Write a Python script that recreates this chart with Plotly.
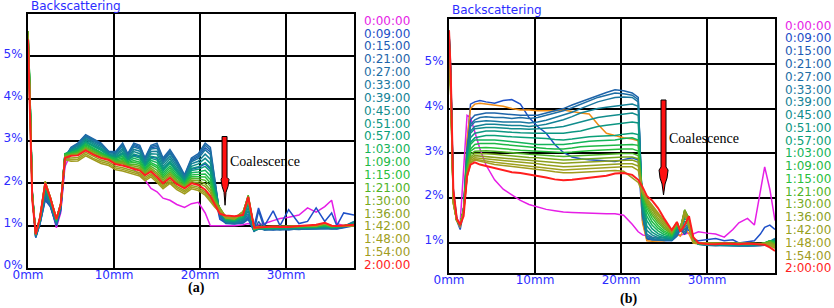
import plotly.graph_objects as go

# ---------------- labels / colours ----------------
times = ["0:00:00", "0:09:00", "0:15:00", "0:21:00", "0:27:00", "0:33:00", "0:39:00",
         "0:45:00", "0:51:00", "0:57:00", "1:03:00", "1:09:00", "1:15:00", "1:21:00",
         "1:30:00", "1:36:00", "1:42:00", "1:48:00", "1:54:00", "2:00:00"]
legend_colors = ["#e61ee6", "#1e50c8", "#1e5ab4", "#1e64aa", "#1e6ea5", "#1a78a0", "#148296",
                 "#108c8c", "#0c9682", "#0aa078", "#14b45a", "#1eb946", "#28c03c", "#50b428",
                 "#78aa1e", "#8c9f1e", "#96a01e", "#a0a01e", "#a09b1e", "#ff1e1e"]
line_colors_b = list(legend_colors)
line_colors_b[2] = "#f08c14"

x_ticks = [0, 10, 20, 30]
x_ticktext = ["0mm", "10mm", "20mm", "30mm"]
y_ticks = [0, 1, 2, 3, 4, 5]
y_ticktext = ["0%", "1%", "2%", "3%", "4%", "5%"]

# ---------------- panel (a) ----------------
xa = [0, 0.2, 0.5, 0.9, 1.4, 2.0, 2.6, 3.3, 3.8, 4.3,
      5.0, 5.8, 6.7, 7.6, 8.5, 9.4, 10.2, 11.0, 11.6, 12.3, 13.0, 13.6, 14.3, 15.0, 15.7, 16.5, 17.3, 18.2, 19.0, 19.8, 20.6, 21.2,
      21.7, 22.3, 23.0, 24.0, 25.0, 25.6, 26.3,
      26.8, 27.5, 28.5, 29.3, 30.3, 31.5, 32.5, 33.5, 34.5, 35.3, 35.9, 36.7, 37.9]

a_0000 = [5.0, 4.2, 1.8, 0.85, 1.1, 1.75, 1.5, 0.95, 1.3, 2.4,
          2.7, 2.8, 2.95, 2.8, 2.7, 2.6, 2.55, 2.5, 2.4, 2.33, 2.2, 2.08, 1.88, 1.8, 1.65, 1.6, 1.5, 1.43, 1.52, 1.55, 1.3, 1.0,
          1.0, 1.0, 1.0, 1.0, 1.02, 1.05, 1.0,
          1.02, 1.05, 1.12, 1.17, 1.2, 1.25, 1.42, 1.32, 1.45, 1.6, 1.05, 1.0, 1.0]
a_0009 = [5.1, 4.1, 1.7, 0.72, 1.05, 1.6, 1.45, 1.0, 1.35, 2.5,
          2.76, 2.82, 2.98, 2.88, 2.79, 2.66, 2.62, 2.71, 2.56, 2.67, 2.63, 2.42, 2.62, 2.59, 2.33, 2.50, 2.29, 2.06, 2.33, 2.37, 2.46, 2.33,
          1.75, 1.15, 1.06, 1.05, 1.08, 1.2, 1.0,
          1.42, 1.0, 1.35, 1.0, 1.38, 1.05, 1.1, 1.42, 1.1, 1.3, 1.0, 1.3, 1.25]
a_0015 = [5.3, 4.2, 1.7, 0.72, 1.05, 1.62, 1.45, 1.02, 1.38, 2.55,
          2.83, 2.92, 3.11, 3.01, 2.92, 2.73, 2.72, 2.90, 2.67, 2.89, 2.84, 2.56, 2.84, 2.87, 2.54, 2.73, 2.49, 2.17, 2.54, 2.63, 2.84, 2.74,
          1.95, 1.2, 1.05, 1.04, 1.06, 1.15, 0.87,
          1.35, 0.92, 0.9, 0.92, 0.9, 0.93, 0.92, 0.94, 0.95, 0.93, 0.92, 0.95, 1.0]
a_0021 = [5.2, 4.1, 1.7, 0.73, 1.06, 1.65, 1.47, 1.03, 1.4, 2.6,
          2.85, 2.95, 3.15, 3.05, 2.95, 2.75, 2.75, 2.95, 2.70, 2.95, 2.90, 2.60, 2.90, 2.95, 2.60, 2.80, 2.55, 2.20, 2.60, 2.70, 2.95, 2.85,
          2.1, 1.25, 1.06, 1.05, 1.07, 1.18, 0.86,
          1.1, 0.9, 0.91, 0.9, 0.92, 0.91, 0.93, 0.92, 0.93, 0.94, 0.93, 0.96, 1.05]
a_0027 = [5.3, 4.2, 1.72, 0.74, 1.08, 1.7, 1.5, 1.05, 1.42, 2.62,
          2.84, 2.94, 3.13, 3.03, 2.93, 2.74, 2.74, 2.92, 2.68, 2.92, 2.87, 2.58, 2.87, 2.91, 2.57, 2.77, 2.52, 2.18, 2.57, 2.66, 2.90, 2.79,
          2.05, 1.25, 1.07, 1.06, 1.08, 1.22, 0.87,
          0.95, 0.9, 0.92, 0.91, 0.92, 0.92, 0.93, 0.93, 0.94, 0.93, 0.94, 0.97, 1.08]
a_0033 = [5.4, 4.2, 1.72, 0.75, 1.1, 1.75, 1.52, 1.06, 1.44, 2.64,
          2.82, 2.91, 3.09, 2.99, 2.90, 2.72, 2.71, 2.87, 2.65, 2.86, 2.81, 2.54, 2.81, 2.83, 2.51, 2.70, 2.46, 2.15, 2.51, 2.59, 2.79, 2.68,
          2.0, 1.27, 1.08, 1.07, 1.1, 1.28, 0.88,
          0.92, 0.91, 0.92, 0.92, 0.93, 0.93, 0.94, 0.94, 0.95, 0.94, 0.95, 0.98, 1.1]
a_0039 = [5.4, 4.3, 1.74, 0.76, 1.12, 1.8, 1.55, 1.08, 1.46, 2.66,
          2.80, 2.88, 3.06, 2.96, 2.87, 2.70, 2.68, 2.82, 2.62, 2.80, 2.76, 2.50, 2.75, 2.76, 2.46, 2.64, 2.41, 2.12, 2.46, 2.52, 2.69, 2.57,
          1.95, 1.3, 1.09, 1.08, 1.12, 1.35, 0.88,
          0.92, 0.92, 0.93, 0.93, 0.93, 0.94, 0.94, 0.95, 0.96, 0.95, 0.95, 0.98, 1.08]
a_0045 = [5.5, 4.3, 1.75, 0.77, 1.13, 1.84, 1.57, 1.09, 1.47, 2.67,
          2.78, 2.85, 3.03, 2.93, 2.83, 2.68, 2.65, 2.78, 2.59, 2.75, 2.70, 2.46, 2.70, 2.69, 2.40, 2.58, 2.36, 2.09, 2.40, 2.46, 2.59, 2.47,
          1.9, 1.32, 1.1, 1.09, 1.15, 1.42, 0.89,
          0.93, 0.93, 0.93, 0.94, 0.94, 0.94, 0.95, 0.95, 0.97, 0.95, 0.96, 0.99, 1.06]
a_0051 = [5.5, 4.3, 1.75, 0.78, 1.14, 1.87, 1.59, 1.1, 1.48, 2.68,
          2.77, 2.83, 2.99, 2.89, 2.80, 2.67, 2.62, 2.73, 2.57, 2.69, 2.65, 2.43, 2.64, 2.61, 2.35, 2.52, 2.31, 2.07, 2.35, 2.39, 2.49, 2.37,
          1.85, 1.34, 1.12, 1.1, 1.18, 1.5, 0.9,
          0.93, 0.94, 0.94, 0.94, 0.95, 0.95, 0.95, 0.96, 0.98, 0.96, 0.96, 0.99, 1.05]
a_0057 = [5.5, 4.3, 1.76, 0.78, 1.15, 1.9, 1.6, 1.11, 1.49, 2.69,
          2.75, 2.81, 2.97, 2.87, 2.78, 2.65, 2.60, 2.68, 2.54, 2.64, 2.60, 2.40, 2.59, 2.55, 2.30, 2.47, 2.27, 2.04, 2.30, 2.33, 2.40, 2.28,
          1.8, 1.36, 1.13, 1.11, 1.2, 1.56, 0.91,
          0.94, 0.94, 0.95, 0.95, 0.95, 0.96, 0.96, 0.97, 0.99, 0.96, 0.97, 0.99, 1.04]
a_0103 = [5.6, 4.4, 1.76, 0.79, 1.16, 1.92, 1.62, 1.12, 1.5, 2.7,
          2.73, 2.78, 2.94, 2.84, 2.75, 2.63, 2.58, 2.64, 2.51, 2.59, 2.55, 2.36, 2.54, 2.49, 2.25, 2.41, 2.22, 2.01, 2.25, 2.27, 2.31, 2.18,
          1.75, 1.38, 1.15, 1.13, 1.22, 1.62, 0.92,
          0.94, 0.95, 0.95, 0.95, 0.96, 0.96, 0.97, 0.97, 1.0, 0.97, 0.97, 1.0, 1.03]
a_0109 = [5.6, 4.4, 1.77, 0.8, 1.17, 1.95, 1.63, 1.13, 1.5, 2.7,
          2.72, 2.76, 2.91, 2.81, 2.72, 2.62, 2.55, 2.60, 2.49, 2.54, 2.50, 2.33, 2.49, 2.42, 2.20, 2.36, 2.17, 1.99, 2.20, 2.21, 2.22, 2.09,
          1.7, 1.4, 1.16, 1.14, 1.25, 1.66, 0.93,
          0.95, 0.95, 0.96, 0.96, 0.96, 0.97, 0.97, 0.98, 1.01, 0.97, 0.98, 1.0, 1.03]
a_0115 = [5.6, 4.4, 1.78, 0.8, 1.18, 1.97, 1.64, 1.14, 1.51, 2.68,
          2.70, 2.74, 2.88, 2.78, 2.69, 2.60, 2.53, 2.56, 2.47, 2.50, 2.46, 2.30, 2.45, 2.37, 2.16, 2.31, 2.13, 1.97, 2.16, 2.16, 2.15, 2.01,
          1.66, 1.41, 1.18, 1.15, 1.27, 1.7, 0.92,
          0.95, 0.96, 0.96, 0.96, 0.97, 0.97, 0.98, 0.98, 1.02, 0.98, 0.98, 1.0, 1.02]
a_0121 = [5.6, 4.3, 1.78, 0.8, 1.18, 1.98, 1.65, 1.15, 1.51, 2.66,
          2.69, 2.72, 2.85, 2.75, 2.67, 2.59, 2.51, 2.53, 2.44, 2.45, 2.42, 2.27, 2.40, 2.31, 2.12, 2.26, 2.09, 1.94, 2.12, 2.11, 2.07, 1.93,
          1.62, 1.42, 1.19, 1.16, 1.3, 1.72, 0.92,
          0.96, 0.96, 0.97, 0.97, 0.97, 0.98, 0.98, 0.99, 1.03, 0.98, 0.99, 1.0, 1.02]
a_0130 = [5.6, 4.3, 1.7, 0.8, 1.19, 2.0, 1.66, 1.16, 1.52, 2.64,
          2.68, 2.70, 2.83, 2.73, 2.65, 2.58, 2.49, 2.49, 2.42, 2.41, 2.38, 2.24, 2.36, 2.25, 2.08, 2.22, 2.05, 1.92, 2.08, 2.06, 1.99, 1.85,
          1.58, 1.42, 1.2, 1.17, 1.32, 1.7, 0.93,
          0.96, 0.97, 0.97, 0.97, 0.98, 0.98, 0.99, 0.99, 1.04, 0.99, 0.99, 1.0, 1.01]
a_0136 = [5.5, 4.2, 1.7, 0.8, 1.19, 2.02, 1.66, 1.16, 1.52, 2.62,
          2.66, 2.68, 2.81, 2.71, 2.62, 2.56, 2.47, 2.46, 2.40, 2.37, 2.34, 2.22, 2.32, 2.21, 2.04, 2.18, 2.02, 1.90, 2.04, 2.01, 1.93, 1.78,
          1.55, 1.4, 1.21, 1.18, 1.33, 1.68, 0.93,
          0.97, 0.97, 0.97, 0.98, 0.98, 0.98, 0.99, 1.0, 1.04, 0.99, 0.99, 1.0, 1.01]
a_0142 = [5.5, 4.2, 1.65, 0.8, 1.2, 2.03, 1.67, 1.17, 1.5, 2.6,
          2.60, 2.61, 2.73, 2.63, 2.55, 2.50, 2.40, 2.37, 2.33, 2.28, 2.25, 2.14, 2.23, 2.10, 1.95, 2.08, 1.93, 1.83, 1.95, 1.91, 1.80, 1.65,
          1.5, 1.38, 1.2, 1.18, 1.33, 1.65, 0.94,
          0.97, 0.97, 0.98, 0.98, 0.98, 0.99, 0.99, 1.0, 1.05, 0.99, 0.99, 1.0, 1.0]
a_0148 = [5.4, 4.1, 1.65, 0.8, 1.2, 2.04, 1.67, 1.17, 1.5, 2.58,
          2.56, 2.57, 2.69, 2.59, 2.51, 2.46, 2.36, 2.33, 2.29, 2.24, 2.21, 2.10, 2.19, 2.06, 1.91, 2.04, 1.89, 1.79, 1.91, 1.87, 1.76, 1.61,
          1.47, 1.35, 1.19, 1.17, 1.32, 1.62, 0.94,
          0.97, 0.98, 0.98, 0.98, 0.99, 0.99, 1.0, 1.0, 1.05, 1.0, 1.0, 1.0, 1.0]
a_0154 = [5.4, 4.1, 1.62, 0.8, 1.2, 2.05, 1.67, 1.17, 1.5, 2.56,
          2.52, 2.53, 2.65, 2.55, 2.47, 2.42, 2.32, 2.29, 2.25, 2.20, 2.17, 2.06, 2.15, 2.02, 1.87, 2.00, 1.85, 1.75, 1.87, 1.83, 1.72, 1.57,
          1.44, 1.32, 1.18, 1.16, 1.3, 1.6, 0.95,
          0.98, 0.98, 0.98, 0.99, 0.99, 0.99, 1.0, 1.0, 1.05, 1.0, 1.0, 1.0, 1.0]
a_0200 = [5.4, 4.0, 1.6, 0.8, 1.2, 2.0, 1.65, 1.15, 1.5, 2.6,
          2.65, 2.66, 2.78, 2.68, 2.60, 2.55, 2.45, 2.42, 2.38, 2.33, 2.30, 2.19, 2.28, 2.15, 2.00, 2.13, 1.98, 1.88, 2.00, 1.96, 1.85, 1.70,
          1.5, 1.28, 1.24, 1.22, 1.25, 1.68, 0.95,
          0.96, 0.97, 0.98, 0.97, 0.97, 0.99, 1.0, 1.02, 1.07, 1.0, 0.99, 1.0, 1.02]

# ---------------- panel (b) ----------------
xb = [0, 0.2, 0.5, 0.9, 1.3, 1.7, 2.1, 2.5,
      3.0, 3.6, 4.3, 5.3, 6.3, 7.3, 8.3, 9.3, 10.3, 11.3, 12.3, 13.3, 14.3, 15.3, 16.3, 17.3, 18.3, 19.3, 20.3, 21.3, 22.0,
      22.5, 23.0, 23.6, 24.3, 25.0, 25.9, 26.5, 26.9, 27.4, 27.9, 28.4,
      29.0, 30.0, 31.0, 32.0, 33.0, 33.7, 34.7, 35.5, 36.2, 36.7, 37.3, 37.9]

b_0000 = [5.6, 4.7, 2.0, 1.5, 1.45, 2.6, 3.85, 3.8,
          3.5, 3.1, 2.74, 2.41, 2.2, 2.07, 1.95, 1.86, 1.8, 1.75, 1.72, 1.69, 1.68, 1.67, 1.66, 1.66, 1.65, 1.65, 1.62, 1.42, 1.25,
          1.18, 1.15, 1.13, 1.12, 1.12, 1.15, 1.2, 1.18, 1.2, 1.22, 1.2,
          1.25, 1.22, 1.2, 1.13, 1.3, 1.45, 1.55, 1.4, 2.2, 2.7, 2.2, 1.5]
b_0009 = [5.7, 4.8, 2.1, 1.5, 1.3, 1.7, 3.2, 4.1,
          4.15, 4.18, 4.15, 4.12, 4.18, 4.2, 4.1, 3.8, 3.6, 3.45, 3.2, 3.02, 2.92, 2.88, 2.86, 2.85, 2.83, 2.82, 2.86, 2.9, 2.85,
          1.5, 1.08, 1.07, 1.06, 1.05, 1.06, 1.25, 1.3, 1.2, 1.3, 1.08,
          1.05, 1.08, 1.1, 1.05, 1.07, 1.0, 1.02, 1.05, 1.2, 1.35, 1.4, 1.3]
b_0015 = [5.7, 4.8, 2.1, 1.5, 1.35, 1.8, 3.3, 4.0,
          4.1, 4.12, 4.1, 4.08, 4.05, 4.0, 3.97, 3.97, 3.95, 3.95, 3.95, 3.97, 3.93, 3.9, 3.88, 3.65, 3.45, 3.4, 3.35, 3.32, 3.28,
          1.45, 1.05, 1.04, 1.05, 1.05, 1.1, 1.2, 1.15, 1.35, 1.2, 1.0,
          0.98, 0.97, 0.97, 0.96, 0.97, 0.97, 0.96, 0.97, 0.97, 0.98, 1.0, 1.02]
b_0021 = [5.75, 4.9, 2.2, 1.55, 1.38, 1.75, 3.1, 3.75,
          3.85, 3.88, 3.9, 3.9, 3.88, 3.87, 3.85, 3.85, 3.85, 3.9, 3.95, 4.0, 4.08, 4.15, 4.22, 4.3, 4.36, 4.42, 4.4, 4.35, 4.25,
          1.6, 1.1, 1.07, 1.06, 1.05, 1.05, 1.15, 1.3, 1.2, 1.38, 1.12,
          0.98, 0.95, 0.94, 0.95, 0.94, 0.93, 0.94, 0.93, 0.94, 0.95, 1.0, 1.05]
b_0027 = [5.7, 4.8, 2.15, 1.55, 1.38, 1.75, 3.05, 3.65,
          3.75, 3.8, 3.82, 3.8, 3.8, 3.78, 3.8, 3.78, 3.8, 3.85, 3.9, 3.95, 4.02, 4.1, 4.17, 4.25, 4.3, 4.35, 4.33, 4.3, 4.2,
          1.65, 1.12, 1.08, 1.07, 1.06, 1.06, 1.18, 1.32, 1.25, 1.4, 1.1,
          0.97, 0.95, 0.95, 0.94, 0.94, 0.94, 0.93, 0.94, 0.94, 0.96, 1.02, 1.08]
b_0033 = [5.7, 4.8, 2.1, 1.5, 1.38, 1.75, 3.0, 3.6,
          3.7, 3.72, 3.73, 3.72, 3.7, 3.7, 3.7, 3.68, 3.7, 3.74, 3.8, 3.85, 3.92, 4.0, 4.07, 4.15, 4.2, 4.25, 4.26, 4.25, 4.15,
          1.7, 1.15, 1.1, 1.08, 1.07, 1.07, 1.22, 1.34, 1.3, 1.42, 1.08,
          0.97, 0.96, 0.95, 0.95, 0.94, 0.94, 0.94, 0.94, 0.95, 0.97, 1.03, 1.1]
b_0039 = [5.65, 4.7, 2.1, 1.5, 1.38, 1.75, 2.95, 3.5,
          3.6, 3.63, 3.65, 3.65, 3.63, 3.62, 3.62, 3.6, 3.62, 3.65, 3.7, 3.75, 3.82, 3.9, 3.95, 4.0, 4.03, 4.05, 4.08, 4.1, 4.05,
          1.75, 1.2, 1.13, 1.1, 1.08, 1.08, 1.26, 1.35, 1.36, 1.44, 1.07,
          0.97, 0.96, 0.95, 0.96, 0.95, 0.95, 0.95, 0.95, 0.96, 0.98, 1.03, 1.08]
b_0045 = [5.65, 4.7, 2.05, 1.5, 1.38, 1.75, 2.9, 3.45,
          3.55, 3.57, 3.58, 3.58, 3.56, 3.55, 3.55, 3.54, 3.55, 3.56, 3.58, 3.6, 3.65, 3.7, 3.75, 3.8, 3.83, 3.85, 3.88, 3.9, 3.85,
          1.8, 1.28, 1.18, 1.12, 1.1, 1.09, 1.3, 1.36, 1.42, 1.46, 1.06,
          0.98, 0.96, 0.96, 0.96, 0.95, 0.95, 0.96, 0.95, 0.96, 0.98, 1.04, 1.06]
b_0051 = [5.6, 4.7, 2.05, 1.5, 1.38, 1.75, 2.85, 3.35,
          3.45, 3.48, 3.5, 3.5, 3.48, 3.47, 3.46, 3.45, 3.45, 3.45, 3.45, 3.45, 3.48, 3.5, 3.55, 3.6, 3.63, 3.65, 3.68, 3.7, 3.68,
          1.85, 1.38, 1.24, 1.16, 1.12, 1.1, 1.33, 1.36, 1.48, 1.48, 1.05,
          0.98, 0.97, 0.96, 0.96, 0.96, 0.96, 0.96, 0.96, 0.97, 0.99, 1.04, 1.05]
b_0057 = [5.6, 4.6, 2.0, 1.5, 1.4, 1.75, 2.8, 3.25,
          3.35, 3.38, 3.4, 3.4, 3.38, 3.37, 3.36, 3.35, 3.35, 3.33, 3.31, 3.3, 3.32, 3.35, 3.37, 3.38, 3.39, 3.4, 3.43, 3.45, 3.42,
          1.9, 1.5, 1.32, 1.21, 1.15, 1.12, 1.35, 1.36, 1.54, 1.5, 1.05,
          0.98, 0.97, 0.97, 0.97, 0.96, 0.96, 0.97, 0.96, 0.97, 0.99, 1.05, 1.04]
b_0103 = [5.6, 4.6, 2.0, 1.5, 1.4, 1.75, 2.75, 3.2,
          3.3, 3.3, 3.3, 3.3, 3.28, 3.26, 3.24, 3.22, 3.2, 3.2, 3.2, 3.2, 3.22, 3.25, 3.27, 3.28, 3.29, 3.3, 3.33, 3.35, 3.3,
          1.95, 1.6, 1.4, 1.27, 1.19, 1.14, 1.37, 1.35, 1.6, 1.52, 1.04,
          0.99, 0.97, 0.97, 0.97, 0.97, 0.96, 0.97, 0.97, 0.97, 1.0, 1.05, 1.03]
b_0109 = [5.55, 4.6, 2.0, 1.5, 1.4, 1.75, 2.7, 3.1,
          3.2, 3.22, 3.22, 3.22, 3.2, 3.18, 3.16, 3.14, 3.12, 3.11, 3.1, 3.1, 3.12, 3.15, 3.16, 3.17, 3.17, 3.18, 3.2, 3.2, 3.18,
          2.0, 1.7, 1.48, 1.33, 1.23, 1.16, 1.38, 1.35, 1.65, 1.55, 1.04,
          0.99, 0.98, 0.97, 0.98, 0.97, 0.97, 0.97, 0.97, 0.98, 1.0, 1.05, 1.02]
b_0115 = [5.55, 4.5, 1.95, 1.5, 1.4, 1.75, 2.65, 3.05,
          3.12, 3.13, 3.13, 3.12, 3.1, 3.09, 3.07, 3.06, 3.05, 3.04, 3.03, 3.02, 3.03, 3.05, 3.06, 3.07, 3.08, 3.1, 3.1, 3.1, 3.05,
          2.05, 1.78, 1.56, 1.39, 1.27, 1.18, 1.4, 1.34, 1.7, 1.56, 1.03,
          0.99, 0.98, 0.98, 0.98, 0.97, 0.97, 0.98, 0.97, 0.98, 1.0, 1.04, 1.0]
b_0121 = [5.5, 4.5, 1.95, 1.5, 1.4, 1.75, 2.6, 2.98,
          3.05, 3.06, 3.06, 3.05, 3.03, 3.01, 2.99, 2.98, 2.97, 2.95, 2.94, 2.93, 2.94, 2.95, 2.96, 2.97, 2.98, 3.0, 3.0, 3.0, 2.95,
          2.1, 1.84, 1.63, 1.45, 1.32, 1.2, 1.42, 1.33, 1.74, 1.55, 1.03,
          1.0, 0.98, 0.98, 0.98, 0.98, 0.97, 0.98, 0.98, 0.98, 1.0, 1.03, 0.98]
b_0130 = [5.5, 4.5, 1.95, 1.5, 1.4, 1.75, 2.55, 2.92,
          3.0, 3.0, 2.99, 2.98, 2.96, 2.94, 2.92, 2.91, 2.9, 2.88, 2.86, 2.85, 2.86, 2.87, 2.88, 2.89, 2.9, 2.92, 2.92, 2.92, 2.88,
          2.12, 1.88, 1.69, 1.5, 1.36, 1.22, 1.43, 1.32, 1.74, 1.52, 1.02,
          1.0, 0.99, 0.98, 0.99, 0.98, 0.98, 0.98, 0.98, 0.98, 0.99, 1.02, 0.96]
b_0136 = [5.5, 4.4, 1.9, 1.5, 1.4, 1.72, 2.52, 2.88,
          2.95, 2.94, 2.93, 2.92, 2.9, 2.88, 2.86, 2.84, 2.83, 2.81, 2.79, 2.78, 2.79, 2.8, 2.81, 2.82, 2.83, 2.84, 2.85, 2.85, 2.8,
          2.15, 1.92, 1.74, 1.55, 1.4, 1.24, 1.44, 1.3, 1.72, 1.48, 1.02,
          1.0, 0.99, 0.99, 0.99, 0.98, 0.98, 0.99, 0.98, 0.98, 0.99, 1.0, 0.94]
b_0142 = [5.45, 4.4, 1.9, 1.5, 1.42, 1.7, 2.5, 2.84,
          2.9, 2.89, 2.88, 2.86, 2.84, 2.82, 2.8, 2.78, 2.77, 2.74, 2.72, 2.7, 2.71, 2.72, 2.73, 2.74, 2.75, 2.77, 2.77, 2.77, 2.72,
          2.15, 1.95, 1.78, 1.6, 1.44, 1.26, 1.45, 1.28, 1.7, 1.44, 1.02,
          1.0, 0.99, 0.99, 0.99, 0.99, 0.98, 0.99, 0.99, 0.98, 0.98, 0.98, 0.92]
b_0148 = [5.45, 4.3, 1.9, 1.5, 1.42, 1.7, 2.48, 2.8,
          2.87, 2.85, 2.83, 2.8, 2.78, 2.76, 2.74, 2.72, 2.7, 2.67, 2.65, 2.63, 2.64, 2.65, 2.66, 2.67, 2.68, 2.7, 2.7, 2.7, 2.62,
          2.15, 1.98, 1.82, 1.64, 1.48, 1.27, 1.46, 1.27, 1.68, 1.4, 1.01,
          1.0, 1.0, 0.99, 0.99, 0.99, 0.99, 0.99, 0.99, 0.98, 0.98, 0.96, 0.9]
b_0154 = [5.4, 4.3, 1.88, 1.5, 1.42, 1.68, 2.46, 2.78,
          2.85, 2.82, 2.79, 2.75, 2.73, 2.71, 2.69, 2.67, 2.65, 2.62, 2.59, 2.57, 2.57, 2.58, 2.59, 2.6, 2.61, 2.62, 2.6, 2.45, 2.35,
          2.12, 2.0, 1.85, 1.67, 1.51, 1.28, 1.46, 1.26, 1.66, 1.36, 1.01,
          1.0, 1.0, 1.0, 1.0, 0.99, 0.99, 0.99, 0.99, 0.98, 0.97, 0.94, 0.88]
b_0200 = [5.75, 4.8, 2.2, 1.55, 1.4, 1.6, 2.5, 2.75,
          2.8, 2.75, 2.72, 2.67, 2.62, 2.58, 2.56, 2.53, 2.5, 2.46, 2.42, 2.4, 2.41, 2.43, 2.45, 2.47, 2.5, 2.55, 2.56, 2.52, 2.41,
          2.25, 2.05, 1.95, 1.78, 1.55, 1.29, 1.47, 1.25, 1.4, 1.6, 1.13,
          1.0, 0.98, 0.97, 0.99, 0.98, 0.97, 0.99, 0.98, 0.97, 0.96, 0.9, 0.82]

# arrow outlines (data units of each panel)
arrow_a_x = [22.56, 23.14, 23.14, 23.37, 23.26, 23.02, 22.91, 22.79, 22.56, 22.44, 22.56]
arrow_a_y = [3.106, 3.106, 2.141, 2.094, 1.929, 1.788, 1.482, 1.788, 1.929, 2.094, 2.141]
arrow_b_x = [24.65, 25.23, 25.23, 25.47, 25.35, 25.12, 24.94, 24.77, 24.53, 24.42, 24.65]
arrow_b_y = [4.192, 4.192, 2.696, 2.629, 2.451, 2.317, 2.071, 2.317, 2.451, 2.629, 2.696]

series_a = [a_0000, a_0009, a_0015, a_0021, a_0027, a_0033, a_0039, a_0045, a_0051, a_0057,
            a_0103, a_0109, a_0115, a_0121, a_0130, a_0136, a_0142, a_0148, a_0154, a_0200]
series_b = [b_0000, b_0009, b_0015, b_0021, b_0027, b_0033, b_0039, b_0045, b_0051, b_0057,
            b_0103, b_0109, b_0115, b_0121, b_0130, b_0136, b_0142, b_0148, b_0154, b_0200]

W, H = 834, 308
fig = go.Figure()
for i, (name, ys, c) in enumerate(zip(times, series_a, legend_colors)):
    fig.add_trace(go.Scatter(x=xa, y=ys, mode="lines", name=name, showlegend=False,
                             line=dict(color=c, width=2 if i == len(times) - 1 else 1.5),
                             xaxis="x", yaxis="y"))
for i, (name, ys, c) in enumerate(zip(times, series_b, line_colors_b)):
    fig.add_trace(go.Scatter(x=xb, y=ys, mode="lines", name=name, showlegend=False,
                             line=dict(color=c, width=2 if i == len(times) - 1 else 1.5),
                             xaxis="x2", yaxis="y2"))

tick_font = dict(family="DejaVu Sans", size=12, color="#2c2cff")
common = dict(showline=True, mirror=True, linecolor="black", linewidth=2,
              showgrid=True, gridcolor="black", gridwidth=1.5, zeroline=False,
              ticks="", tickfont=tick_font, automargin=False, fixedrange=True)

fig.update_layout(
    width=W, height=H, autosize=False, margin=dict(l=0, r=0, t=0, b=0, pad=0, autoexpand=False),
    paper_bgcolor="white", plot_bgcolor="white", showlegend=False,
    xaxis=dict(common, domain=[28 / W, 354 / W], range=[0, 37.9], tickvals=x_ticks,
               ticktext=x_ticktext, anchor="y", ticklabelstandoff=-5),
    yaxis=dict(common, domain=[(H - 268) / H, (H - 14) / H], range=[0, 6], tickvals=y_ticks,
               ticktext=y_ticktext, anchor="x", ticklabelshift=-3, ticklabelstandoff=1),
    xaxis2=dict(common, domain=[449 / W, 775 / W], range=[0, 37.9], tickvals=x_ticks,
                ticktext=x_ticktext, anchor="y2", ticklabelstandoff=-5),
    yaxis2=dict(common, domain=[(H - 273) / H, (H - 19) / H], range=[0.33, 6], tickvals=y_ticks[1:],
                ticktext=y_ticktext[1:], anchor="x2", ticklabelshift=-3, ticklabelstandoff=1),
)


def label(text, px, py, font, xanchor="center"):
    return dict(text=text, x=px / W, y=1 - py / H, xref="paper", yref="paper",
                xanchor=xanchor, yanchor="middle", showarrow=False, font=font)


ann = []
# titles
ann.append(label("Backscattering", 29, 6, tick_font, "left"))
ann.append(label("Backscattering", 450, 9.5, tick_font, "left"))
# legend texts
for i, (t, c) in enumerate(zip(times, legend_colors)):
    f = dict(family="DejaVu Sans", size=12, color=c)
    ann.append(label(t, 362, 20.7 + i * 12.86, f, "left"))
    ann.append(label(t, 783, 25.7 + i * 12.77, f, "left"))
# coalescence labels
serif = dict(family="Liberation Serif", size=14, color="black")
ann.append(label("Coalescence", 265, 161, serif))
ann.append(label("Coalescence", 704, 138, serif))
# captions
cap = dict(family="Liberation Serif", size=14, color="black", weight="bold")
ann.append(label("(a)", 196, 288, cap))
ann.append(label("(b)", 628, 299, cap))
fig.update_layout(annotations=ann)


def path_of(xs, ys):
    return "M " + " L ".join(f"{x} {y}" for x, y in zip(xs, ys)) + " Z"


fig.update_layout(shapes=[
    dict(type="path", path=path_of(arrow_a_x, arrow_a_y), xref="x", yref="y",
         fillcolor="#ff1010", line=dict(color="black", width=1)),
    dict(type="path", path=path_of(arrow_b_x, arrow_b_y), xref="x2", yref="y2",
         fillcolor="#ff1010", line=dict(color="black", width=1)),
])

fig.write_html("out.html", config={"responsive": False, "displayModeBar": False},
               post_script="document.body.style.margin='0';document.body.style.overflow='hidden';")
